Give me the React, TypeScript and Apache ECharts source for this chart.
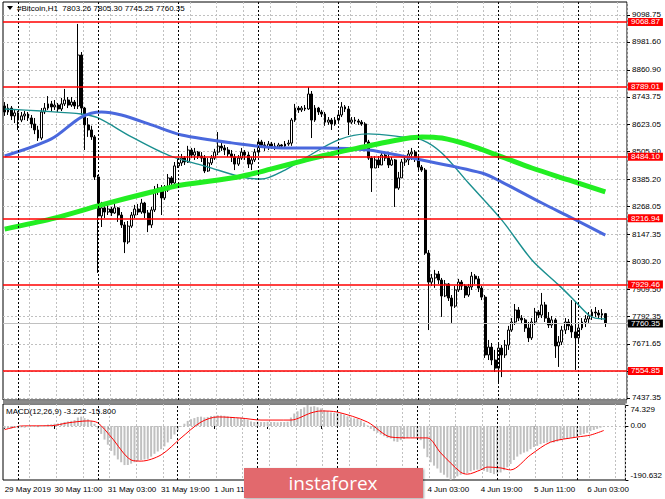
import React, { useEffect, useRef } from "react";
import * as echarts from "echarts";

const FONT = '"Liberation Sans", Arial, sans-serif';

// ---- time axis ----
const dayNames = ["29 May", "30 May", "31 May", "1 Jun", "2 Jun", "3 Jun", "4 Jun", "5 Jun", "6 Jun"];
const START_HOUR = 20;
const SLOT_COUNT = 187;
const categories: string[] = Array.from({ length: SLOT_COUNT }, (_, k) => {
  const h = START_HOUR + k;
  return `${dayNames[Math.floor(h / 24)]} ${String(h % 24).padStart(2, "0")}:00`;
});
// every time tick of the axis (tick marks)
const timeTickIndex = [0, 15, 31, 47, 63, 79, 95, 111, 127, 143, 159, 175];
// labels that are visible (the others sit under the logo)
const timeLabelIndex = [0, 15, 31, 47, 63, 127, 143, 159, 175];
const timeLabelTexts = [
  "29 May 2019", "30 May 11:00", "31 May 03:00", "31 May 19:00", "1 Jun 11:00",
  "4 Jun 03:00", "4 Jun 19:00", "5 Jun 11:00", "6 Jun 03:00",
];
const daySeparators = [4, 28, 52, 76, 100, 124, 148, 172];

// ---- OHLC (H1) ----
const opens = [
  8704, 8678, 8695, 8661, 8674, 8643, 8661, 8669, 8652, 8626,
  8600, 8565, 8678, 8695, 8713, 8700, 8708, 8691, 8713, 8730,
  8708, 8721, 8704, 8925, 8695, 8622, 8600, 8570, 8396, 8227,
  8262, 8244, 8257, 8240, 8262, 8231, 8188, 8114, 8183, 8231,
  8257, 8244, 8283, 8240, 8188, 8253, 8340, 8348, 8305, 8340,
  8392, 8370, 8444, 8457, 8478, 8461, 8513, 8491, 8504, 8487,
  8478, 8422, 8457, 8478, 8504, 8530, 8522, 8513, 8496, 8483,
  8452, 8478, 8504, 8491, 8452, 8470, 8504, 8548, 8535, 8526,
  8539, 8530, 8526, 8535, 8530, 8539, 8543, 8643, 8695, 8687,
  8695, 8691, 8756, 8643, 8695, 8678, 8669, 8634, 8643, 8626,
  8643, 8665, 8700, 8691, 8634, 8643, 8639, 8634, 8626, 8548,
  8478, 8435, 8470, 8448, 8491, 8478, 8448, 8470, 8348, 8392,
  8461, 8470, 8496, 8504, 8478, 8439, 8426, 8066, 7940, 7958,
  7975, 7949, 7880, 7932, 7871, 7836, 7906, 7940, 7923, 7884,
  7919, 7966, 7954, 7914, 7875, 7624, 7658, 7602, 7567, 7654,
  7624, 7667, 7732, 7767, 7819, 7784, 7776, 7741, 7698, 7767,
  7810, 7797, 7841, 7784, 7754, 7776, 7663, 7680, 7732, 7767,
  7750, 7724, 7698, 7741, 7767, 7780, 7793, 7810, 7806, 7797,
  7803.26,
];
const highs = [
  8721, 8713, 8704, 8687, 8682, 8678, 8682, 8678, 8665, 8652,
  8618, 8695, 8717, 8747, 8726, 8730, 8717, 8739, 8778, 8743,
  8743, 8730, 9060, 8938, 8700, 8652, 8618, 8578, 8405, 8288,
  8275, 8275, 8266, 8283, 8266, 8244, 8201, 8205, 8244, 8275,
  8279, 8301, 8288, 8253, 8266, 8357, 8366, 8361, 8361, 8409,
  8400, 8461, 8478, 8496, 8487, 8531, 8522, 8522, 8509, 8504,
  8491, 8478, 8491, 8518, 8591, 8548, 8535, 8526, 8513, 8496,
  8491, 8522, 8513, 8504, 8483, 8518, 8561, 8557, 8548, 8552,
  8548, 8544, 8544, 8539, 8552, 8557, 8652, 8713, 8704, 8704,
  8708, 8786, 8769, 8708, 8700, 8687, 8678, 8656, 8652, 8656,
  8678, 8721, 8708, 8704, 8656, 8656, 8648, 8643, 8634, 8557,
  8487, 8487, 8487, 8504, 8500, 8496, 8483, 8474, 8418, 8474,
  8487, 8513, 8522, 8513, 8491, 8448, 8435, 8079, 7975, 7993,
  7988, 7958, 7949, 7936, 7884, 7923, 7954, 7949, 7932, 7932,
  7984, 7975, 7966, 7923, 7884, 7689, 7676, 7646, 7676, 7667,
  7689, 7750, 7784, 7845, 7832, 7797, 7784, 7767, 7784, 7828,
  7819, 7893, 7854, 7810, 7793, 7784, 7706, 7750, 7784, 7780,
  7862, 7854, 7758, 7784, 7797, 7810, 7823, 7832, 7819, 7823,
  7805.3,
];
const lows = [
  8661, 8665, 8643, 8630, 8600, 8634, 8643, 8639, 8608, 8582,
  8552, 8556, 8669, 8687, 8678, 8687, 8678, 8682, 8704, 8695,
  8700, 8691, 8691, 8665, 8513, 8570, 8557, 8383, 7980, 8179,
  8218, 8231, 8227, 8236, 8201, 8175, 8066, 8105, 8175, 8218,
  8231, 8236, 8218, 8157, 8175, 8244, 8318, 8231, 8296, 8331,
  8348, 8361, 8435, 8444, 8448, 8457, 8478, 8470, 8474, 8461,
  8413, 8418, 8448, 8470, 8491, 8509, 8491, 8483, 8461, 8426,
  8444, 8470, 8470, 8435, 8426, 8461, 8496, 8522, 8509, 8513,
  8518, 8513, 8522, 8518, 8526, 8531, 8531, 8635, 8674, 8678,
  8682, 8687, 8565, 8635, 8665, 8656, 8618, 8622, 8600, 8618,
  8635, 8656, 8678, 8578, 8626, 8626, 8622, 8618, 8535, 8470,
  8331, 8435, 8435, 8448, 8465, 8435, 8444, 8266, 8340, 8392,
  8444, 8448, 8470, 8461, 8426, 8418, 8058, 7732, 7923, 7915,
  7932, 7789, 7875, 7858, 7763, 7828, 7897, 7906, 7871, 7876,
  7906, 7932, 7897, 7862, 7611, 7602, 7580, 7550, 7502, 7528,
  7611, 7646, 7724, 7754, 7771, 7758, 7724, 7680, 7689, 7754,
  7784, 7784, 7767, 7741, 7741, 7611, 7572, 7667, 7715, 7732,
  7698, 7559, 7680, 7732, 7745, 7763, 7776, 7789, 7784, 7776,
  7745.25,
];
const closes = [
  8678, 8695, 8661, 8674, 8643, 8661, 8669, 8652, 8626, 8600,
  8565, 8678, 8695, 8713, 8700, 8708, 8691, 8713, 8730, 8708,
  8721, 8704, 8925, 8695, 8622, 8600, 8570, 8396, 8227, 8262,
  8244, 8257, 8240, 8262, 8231, 8188, 8114, 8183, 8231, 8257,
  8244, 8283, 8240, 8188, 8253, 8340, 8348, 8305, 8340, 8392,
  8370, 8444, 8457, 8478, 8461, 8513, 8491, 8504, 8487, 8478,
  8422, 8457, 8478, 8504, 8530, 8522, 8513, 8496, 8483, 8452,
  8478, 8504, 8491, 8452, 8470, 8504, 8548, 8535, 8526, 8539,
  8530, 8526, 8535, 8530, 8539, 8543, 8643, 8695, 8687, 8695,
  8691, 8756, 8643, 8695, 8678, 8669, 8634, 8643, 8626, 8643,
  8665, 8700, 8691, 8634, 8643, 8639, 8634, 8626, 8548, 8478,
  8435, 8470, 8448, 8491, 8478, 8448, 8470, 8348, 8392, 8461,
  8470, 8496, 8504, 8478, 8439, 8426, 8066, 7940, 7958, 7975,
  7949, 7880, 7932, 7871, 7836, 7906, 7940, 7923, 7884, 7919,
  7966, 7954, 7914, 7875, 7624, 7658, 7602, 7567, 7654, 7624,
  7667, 7732, 7767, 7819, 7784, 7776, 7741, 7698, 7767, 7810,
  7797, 7841, 7784, 7754, 7776, 7663, 7680, 7732, 7767, 7750,
  7724, 7698, 7741, 7767, 7780, 7793, 7810, 7806, 7797, 7803.26,
  7760.35,
];

// ---- moving averages: [bar index, value] ----
const maGreen = [
  [0, 8170], [14, 8214], [29, 8275], [44, 8331], [53, 8361], [70, 8396], [80, 8431],
  [89, 8465], [95, 8487], [109, 8531], [125, 8570], [131, 8565], [139, 8535], [149, 8483],
  [158, 8435], [169, 8383], [180, 8331],
];
const maBlue = [
  [0, 8487], [14, 8561], [23, 8656], [29, 8678], [35, 8665], [44, 8622], [53, 8578],
  [68, 8544], [83, 8522], [95, 8522], [109, 8513], [122, 8478], [143, 8413], [149, 8374],
  [161, 8283], [170, 8218], [180, 8144],
];
const maTeal = [
  [0, 8691], [11, 8682], [23, 8669], [28, 8652], [38, 8570], [49, 8491], [61, 8439],
  [71, 8396], [77, 8387], [84, 8426], [90, 8478], [100, 8557], [109, 8583], [119, 8570],
  [125, 8557], [131, 8500], [139, 8370], [149, 8209], [158, 8036], [166, 7928], [170, 7871],
  [175, 7797], [177, 7784], [180, 7780],
];

// ---- price axis ----
const priceTicks = [9098.75, 8981.6, 8860.9, 8743.75, 8623.05, 8505.9, 8385.2, 8268.05, 8147.35, 8030.2, 7909.5, 7792.35, 7671.65, 7554.5, 7437.35];
const priceLabels = [9098.75, 8981.6, 8860.9, 8743.75, 8623.05, 8505.9, 8385.2, 8268.05, 8147.35, 8030.2, 7909.5, 7792.35, 7671.65, 7437.35];
const priceMin = 7428.6;
const priceMax = 9155.1;
const levelLines = [9068.87, 8789.01, 8484.1, 8216.94, 7929.46, 7554.85];
const lastPrice = 7760.35;

// ---- MACD(12,26,9) ----
const macdMain = [
  -8, -7, -9, -6, -8, -5, -6, -4, -3, -2,
  -4, 1, 3, 5, 6, 8, 9, 11, 14, 16,
  18, 21, 30, 33, 28, 24, 18, 8, -12, -28,
  -48, -66, -88, -104, -118, -128, -138, -138, -133, -128,
  -124, -120, -118, -116, -108, -98, -90, -82, -72, -58,
  -46, -30, -16, -2, 8, 18, 24, 28, 32, 33,
  30, 32, 35, 36, 38, 37, 36, 34, 32, 28,
  28, 29, 28, 22, 16, 14, 15, 14, 14, 15,
  14, 14, 13, 14, 14, 15, 30, 44, 52, 60,
  66, 74.3, 68, 70, 66, 62, 56, 52, 48, 47,
  46, 44, 40, 34, 30, 27, 25, 20, 12, 2,
  -10, -18, -24, -30, -36, -42, -44, -54, -56, -50,
  -46, -42, -40, -40, -44, -50, -80, -110, -128, -140,
  -150, -165, -172, -182, -190.6, -186, -178, -172, -170, -166,
  -160, -156, -154, -152, -158, -162, -166, -170, -168, -164,
  -156, -146, -134, -120, -108, -100, -94, -90, -82, -74,
  -70, -64, -60, -58, -56, -58, -55, -50, -46, -44,
  -42, -40, -37, -32, -28, -24, -18, -14, -10, -6,
  -3.222,
];
const macdSignal = [
  [0, -13], [5, 0], [14, 1], [19, 11], [25, 18], [28, 11], [32, -39], [38, -120], [41, -124],
  [47, -102], [53, -42], [59, 14], [64, 32], [71, 28], [77, 21], [86, 21], [92, 46], [95, 53],
  [100, 49], [109, 14], [116, -39], [122, -42], [127, -42], [131, -95], [137, -163], [139, -170],
  [143, -155], [145, -145], [149, -148], [152, -155], [158, -102], [164, -57], [172, -39],
  [176, -32], [180, -15.8],
];
const macdTicks = [74.329, 0, -190.632];
const macdMin = -190.632;
const macdMax = 77.66;

const GRID_LINE = { color: "#c0c0c0", type: [2, 2] as number[], width: 1 };
const SEP_LINE = { color: "#000", type: [2, 2] as number[], width: 1 };

function buildOption() {
  const candleData = opens.map((o, i) => [o, closes[i], lows[i], highs[i]]);
  const labelOf = (i: number) => timeLabelTexts[timeLabelIndex.indexOf(i)] ?? "";
  const isTimeTick = (i: number) => timeTickIndex.includes(i);
  const isTimeLabel = (i: number) => timeLabelIndex.includes(i);
  const vGrid = (i: number) => i > 0 && i % 8 === 0;

  const levelData = levelLines.map((v) => ({
    yAxis: v,
    lineStyle: { color: "#ff0000", width: 1.6, type: "solid" },
    label: {
      show: true,
      position: "end",
      distance: 1,
      formatter: v.toFixed(2),
      backgroundColor: "#ff0000",
      color: "#ffffff",
      fontSize: 8,
      fontFamily: FONT,
      padding: [0, 3, 0, 3],
      lineHeight: 8,
    },
  }));

  return {
    animation: false,
    backgroundColor: "#ffffff",
    textStyle: { fontFamily: FONT },
    grid: [
      { left: 3, right: 38, top: 2, height: 398, show: true, borderColor: "#000", borderWidth: 1 },
      { left: 3, right: 38, top: 404, height: 76, show: true, borderColor: "#000", borderWidth: 1 },
    ],
    xAxis: [
      {
        type: "category", gridIndex: 0, data: categories, boundaryGap: true,
        axisLine: { show: false }, axisTick: { show: false }, axisLabel: { show: false },
        splitLine: { show: true, interval: (i: number) => vGrid(i), lineStyle: GRID_LINE },
      },
      {
        type: "category", gridIndex: 1, data: categories, boundaryGap: true,
        axisLine: { show: false },
        axisTick: { show: true, alignWithLabel: true, length: 3, interval: (i: number) => isTimeTick(i), lineStyle: { color: "#000" } },
        axisLabel: {
          show: true, interval: (i: number) => isTimeLabel(i),
          formatter: (_v: string, i: number) => labelOf(i),
          align: "left", fontSize: 8, fontFamily: FONT, color: "#000", margin: 5,
        },
        splitLine: { show: true, interval: (i: number) => vGrid(i), lineStyle: GRID_LINE },
      },
    ],
    yAxis: [
      {
        type: "value", gridIndex: 0, position: "right", min: priceMin, max: priceMax,
        axisLine: { show: false },
        axisTick: { show: true, length: 3, customValues: priceTicks, lineStyle: { color: "#000" } },
        axisLabel: { customValues: priceLabels, formatter: (v: number) => v.toFixed(2), fontSize: 8, lineHeight: 8, fontFamily: FONT, color: "#000", margin: 5 },
        splitLine: { show: true, lineStyle: GRID_LINE },
      },
      {
        type: "value", gridIndex: 1, position: "right", min: macdMin, max: macdMax,
        axisLine: { show: false },
        axisTick: { show: true, length: 3, customValues: macdTicks, lineStyle: { color: "#000" } },
        axisLabel: {
          customValues: macdTicks,
          formatter: (v: number) => (v > 1 ? "\n" + v.toFixed(3) : v < -1 ? v.toFixed(3) + "\n" : "0.00"),
          fontSize: 8, lineHeight: 9, fontFamily: FONT, color: "#000", margin: 5,
        },
        splitLine: { show: false },
      },
    ],
    series: [
      {
        type: "line", xAxisIndex: 0, yAxisIndex: 0, data: [], z: 1, silent: true,
        markLine: {
          silent: true, symbol: ["none", "none"], animation: false,
          label: { show: false },
          data: [
            ...daySeparators.map((i) => ({ xAxis: i, lineStyle: SEP_LINE })),
            { yAxis: lastPrice, lineStyle: { color: "#c0c0c0", width: 1, type: "solid" },
              label: { show: true, position: "end", distance: 1, formatter: lastPrice.toFixed(2), backgroundColor: "#000", color: "#fff", fontSize: 8, fontFamily: FONT, padding: [0, 3, 0, 3], lineHeight: 8 } },
          ],
        },
      },
      {
        type: "candlestick", xAxisIndex: 0, yAxisIndex: 0, data: candleData, barWidth: 2.4, z: 2,
        itemStyle: { color: "#ffffff", color0: "#000000", borderColor: "#000000", borderColor0: "#000000", borderWidth: 1 },
      },
      {
        type: "line", xAxisIndex: 0, yAxisIndex: 0, data: maTeal, smooth: 0.3, showSymbol: false, z: 3,
        lineStyle: { color: "#1a8f8f", width: 1.4 }, silent: true,
      },
      {
        type: "line", xAxisIndex: 0, yAxisIndex: 0, data: maBlue, smooth: 0.3, showSymbol: false, z: 3,
        lineStyle: { color: "#4a68dd", width: 3 }, silent: true,
      },
      {
        type: "line", xAxisIndex: 0, yAxisIndex: 0, data: maGreen, smooth: 0.3, showSymbol: false, z: 3,
        lineStyle: { color: "#22ee22", width: 5 }, silent: true,
        markLine: {
          silent: true, symbol: ["none", "none"], animation: false,
          data: levelData,
        },
      },
      {
        type: "bar", xAxisIndex: 1, yAxisIndex: 1, data: macdMain, barWidth: 2, silent: true,
        itemStyle: { color: "#c0c0c0" },
        markLine: {
          silent: true, symbol: ["none", "none"], animation: false, label: { show: false },
          data: [
            { yAxis: 0, lineStyle: GRID_LINE },
            ...daySeparators.map((i) => ({ xAxis: i, lineStyle: SEP_LINE })),
          ],
        },
      },
      {
        type: "line", xAxisIndex: 1, yAxisIndex: 1, data: macdSignal, smooth: 0.3, showSymbol: false,
        lineStyle: { color: "#ff0000", width: 1 }, silent: true, z: 3,
      },
    ],
    graphic: [
      { type: "rect", z: 50, shape: { x: 3, y: 400.5, width: 624, height: 3 }, style: { fill: "#8a8a8a" } },
      { type: "polygon", z: 50, shape: { points: [[7, 6], [13, 6], [10, 10]] }, style: { fill: "#000" } },
      { type: "text", z: 50, x: 17, y: 8, style: { text: "#Bitcoin,H1  7803.26 7805.30 7745.25 7760.35", fill: "#000", fontSize: 8, fontFamily: FONT, verticalAlign: "middle" } },
      { type: "text", z: 50, x: 6, y: 411, style: { text: "MACD(12,26,9) -3.222 -15.800", fill: "#000", fontSize: 8, fontFamily: FONT, verticalAlign: "middle" } },
      { type: "rect", z: 100, shape: { x: 244, y: 468, width: 179, height: 30 }, style: { fill: "#e2696d", shadowBlur: 2, shadowOffsetX: 1, shadowOffsetY: 1, shadowColor: "rgba(0,0,0,0.35)" } },
      { type: "text", z: 101, x: 333, y: 483, style: { text: "instaforex", fill: "#ffffff", fontSize: 19, fontFamily: '"Open Sans", sans-serif', align: "center", verticalAlign: "middle" } },
    ],
  };
}

export default function App() {
  const ref = useRef<HTMLDivElement>(null);
  useEffect(() => {
    const el = ref.current;
    if (!el) return;
    const chart = echarts.init(el, null, { renderer: "svg" });
    chart.setOption(buildOption() as any);
    return () => chart.dispose();
  }, []);
  return (
    <div
      ref={ref}
      style={{ position: "absolute", left: 0, top: 0, width: 665, height: 499, background: "#fff" }}
    />
  );
}
